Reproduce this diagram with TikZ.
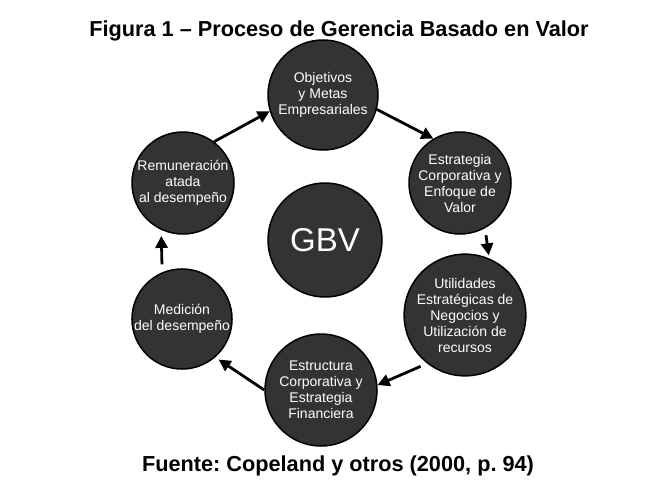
\documentclass[tikz,border=0pt]{standalone}
\usepackage{fontspec}
\setmainfont{Liberation Sans}
\usetikzlibrary{arrows.meta}
\definecolor{fondo}{HTML}{333333}
\tikzset{every node/.style={inner sep=0pt},
  etapa/.style={circle, draw=black, line width=1.5pt, fill=fondo, text=white, align=center, font=\fontsize{14}{16}\selectfont},
  flecha/.style={-{Triangle[length=12pt,width=12pt]}, line width=2.8pt, black}}
\frenchspacing

\begin{document}
\begin{tikzpicture}[x=1pt,y=-1pt]
  \useasboundingbox[fill=white] (0,0) rectangle (654,496);
  \node[font=\fontsize{21.7}{24}\selectfont\bfseries] (titulo) at (339,31) {Figura 1 – Proceso de Gerencia Basado en Valor};
  \node[font=\fontsize{21.7}{24}\selectfont\bfseries] (fuente) at (338,466) {Fuente: Copeland y otros (2000, p. 94)};
  \node[etapa, minimum size=110pt] (obj)  at (323, 95) {Objetivos\\ y Metas\\Empresariales};
  \node[etapa, minimum size=102pt] (est)  at (460,183) {Estrategia\\Corporativa y\\Enfoque de\\Valor};
  \node[etapa, minimum size=104pt] (uti)  at (465,315) {Utilidades\\Estratégicas de\\Negocios y\\Utilización de\\recursos};
  \node[etapa, minimum size=112pt] (estr) at (321,390) {Estructura\\Corporativa y\\Estrategia\\Financiera};
  \node[etapa, minimum size=100pt] (med)  at (182,319) {Medición\\del desempeño};
  \node[etapa, minimum size=102pt] (rem)  at (183,183) {Remuneración\\atada\\al desempeño};
  \node[etapa, minimum size=114pt, font=\fontsize{33}{36}\selectfont] (gbv) at (325,240) {GBV};
  \draw[flecha] (obj.-15) -- (est.121);
  \draw[flecha, shorten <=7pt, shorten >=3pt] (est.-61) -- (uti.67);
  \draw[flecha, shorten <=7pt] (uti.-128) -- (estr.5);
  \draw[flecha, shorten >=4pt] (estr.180) -- (med.-49);
  \draw[flecha, shorten <=8pt, shorten >=6pt] (med.113) -- (rem.-115);
  \draw[flecha] (rem.53) -- (obj.-163);
\end{tikzpicture}
\end{document}
